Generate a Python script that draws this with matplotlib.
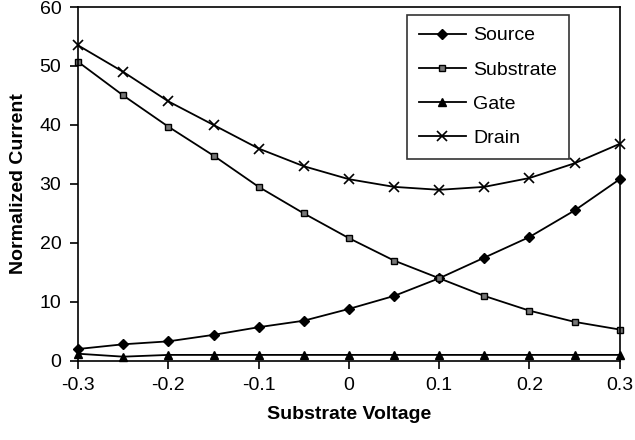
import matplotlib
matplotlib.use("Agg")
import matplotlib.pyplot as plt

plt.rcParams['font.family'] = ['Liberation Sans', 'DejaVu Sans']

voltage = [-0.3, -0.25, -0.2, -0.15, -0.1, -0.05, 0.0, 0.05, 0.1, 0.15, 0.2, 0.25, 0.3]
source = [2.0, 2.8, 3.3, 4.4, 5.7, 6.8, 8.8, 11.0, 14.0, 17.5, 21.0, 25.5, 30.8]
substrate = [50.7, 45.0, 39.7, 34.8, 29.5, 25.0, 20.8, 17.0, 14.0, 11.0, 8.5, 6.6, 5.3]
gate = [1.2, 0.7, 1.0, 1.0, 1.0, 1.0, 1.0, 1.0, 1.0, 1.0, 1.0, 1.0, 1.0]
drain = [53.5, 49.0, 44.0, 40.0, 36.0, 33.0, 30.8, 29.5, 29.0, 29.5, 31.0, 33.5, 36.8]

xticks = [-0.3, -0.2, -0.1, 0, 0.1, 0.2, 0.3]
xticklabels = ['-0.3', '-0.2', '-0.1', '0', '0.1', '0.2', '0.3']
yticks = [0, 10, 20, 30, 40, 50, 60]

fig = plt.figure(figsize=(6.35, 4.4), dpi=100)
ax = fig.add_axes([0.123, 0.18, 0.853, 0.804])

ax.plot(voltage, source, color='black', lw=1.3, marker='D', ms=5, mfc='black', mec='black', label='Source', clip_on=False)
ax.plot(voltage, substrate, color='black', lw=1.3, marker='s', ms=5, mfc='#777777', mec='black', label='Substrate', clip_on=False)
ax.plot(voltage, gate, color='black', lw=1.3, marker='^', ms=6, mfc='black', mec='black', label='Gate', clip_on=False)
ax.plot(voltage, drain, color='black', lw=1.3, marker='x', ms=7, mew=1.2, label='Drain', clip_on=False)

ax.set_xlim(-0.3, 0.3)
ax.set_ylim(0, 60)
ax.set_xticks(xticks)
ax.set_xticklabels(xticklabels)
ax.set_yticks(yticks)
ax.tick_params(axis='both', labelsize=14, direction='out', length=6, width=1.2, pad=6, colors='black')
for s in ax.spines.values():
    s.set_linewidth(1.2)
    s.set_color('black')

ax.set_xlabel('Substrate Voltage', fontsize=14, fontweight='bold', labelpad=8)
ax.set_ylabel('Normalized Current', fontsize=14, fontweight='bold', labelpad=9)

leg = ax.legend(loc='upper right', bbox_to_anchor=(0.906, 0.977), borderaxespad=0, fontsize=14, frameon=True,
                fancybox=False, edgecolor='black', handlelength=2.4, borderpad=0.6,
                labelspacing=0.85, handletextpad=0.4)
leg.get_frame().set_linewidth(1.2)

fig.savefig('out.png', dpi=100)
